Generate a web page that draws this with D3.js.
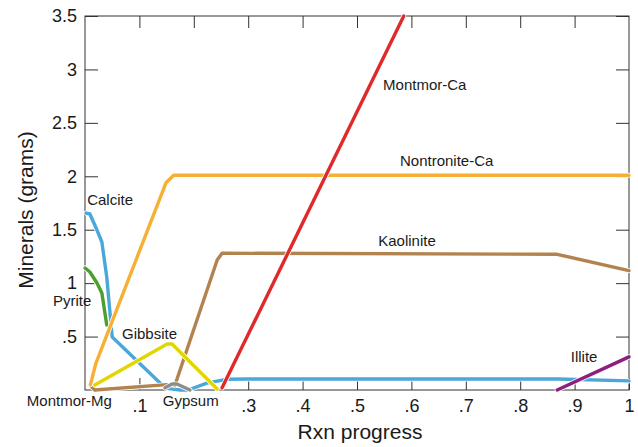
<!DOCTYPE html>
<html>
<head>
<meta charset="utf-8">
<script src="https://cdn.jsdelivr.net/npm/d3@7"></script>
<style>
  body { margin: 0; background: #fff; }
  svg { display: block; font-family: "Liberation Sans", Arial, Helvetica, sans-serif; }
</style>
</head>
<body>
<div id="chart"></div>
<script>
// data: [rxn progress, grams]
const calcite = [[0.002,1.656],[0.009,1.647],[0.022,1.497],[0.031,1.385],[0.040,1.057],[0.050,0.496],[0.138,0.065],[0.151,0.015],[0.175,0.0],[0.19,0.0],[0.224,0.065],[0.26,0.1],[0.3,0.103],[0.87,0.103],[1,0.085]];
const pyrite = [[0.0,1.142],[0.009,1.104],[0.022,1.001],[0.031,0.908],[0.040,0.608]];
const montmorMg = [[0.009,0.047],[0.018,0.0],[0.151,0.05]];
const kaolinite = [[0.165,0.04],[0.243,1.217],[0.252,1.28],[0.868,1.27],[1,1.117]];
const nontroniteCa = [[0.01,0.05],[0.02,0.25],[0.149,1.94],[0.163,2.01],[1,2.01]];
const gibbsite = [[0.018,0.047],[0.151,0.43],[0.16,0.43],[0.243,0.01]];
const gypsum = [[0.147,0.02],[0.16,0.056],[0.169,0.056],[0.193,0.0]];
const montmorCa = [[0.252,0.02],[0.586,3.5]];
const illite = [[0.868,0.0],[1,0.31]];

const seriesNames = ["Calcite","Pyrite","Montmor-Mg","Kaolinite","Nontronite-Ca","Gibbsite","Gypsum","Montmor-Ca","Illite"];
const seriesData = [calcite, pyrite, montmorMg, kaolinite, nontroniteCa, gibbsite, gypsum, montmorCa, illite];
const seriesColors = ["#4aa7d9","#4b9e30","#b3834f","#b3834f","#f6b034","#e2d600","#8c8c8c","#e0292b","#8e1f7e"];

// labels anchored in data units (start of text, baseline)
const labelNames = ["Montmor-Ca","Nontronite-Ca","Kaolinite","Illite","Calcite","Pyrite","Gibbsite","Montmor-Mg","Gypsum"];
const labelAt = [[0.548,2.807],[0.579,2.096],[0.539,1.348],[0.893,0.262],[0.004,1.731],[-0.059,0.786],[0.068,0.477],[-0.107,-0.15],[0.143,-0.15]];

const xTicks = [0.1,0.3,0.4,0.5,0.6,0.7,0.8,0.9,1];
const xTickLabels = [".1",".3",".4",".5",".6",".7",".8",".9","1"];
const yTicks = [0.5,1,1.5,2,2.5,3,3.5];
const yTickLabels = [".5","1","1.5","2","2.5","3","3.5"];

const W = 638, H = 447;
const margin = { left: 85, right: 9, top: 16, bottom: 57 };
const width = W - margin.left - margin.right;
const height = H - margin.top - margin.bottom;

const svg = d3.select("#chart").append("svg").attr("width", W).attr("height", H);
const g = svg.append("g").attr("transform", `translate(${margin.left},${margin.top})`);

const x = d3.scaleLinear().domain([0, 1]).range([0, width]);
const y = d3.scaleLinear().domain([0, 3.5]).range([height, 0]);

const axisColor = "#333";

// frame
g.append("rect")
  .attr("width", width).attr("height", height)
  .attr("fill", "none").attr("stroke", axisColor).attr("stroke-width", 1);

const styleAxis = sel => {
  sel.select(".domain").remove();
  sel.selectAll(".tick line").attr("stroke", axisColor);
  sel.selectAll(".tick text").attr("fill", "#1a1a1a").attr("font-size", "18px")
    .attr("font-family", "Liberation Sans, Arial, sans-serif");
};

g.append("g").attr("transform", `translate(0,${height})`)
  .call(d3.axisBottom(x).tickValues(xTicks).tickSize(-12).tickPadding(9)
    .tickFormat((d, i) => xTickLabels[i]))
  .call(styleAxis);
g.append("g")
  .call(d3.axisTop(x).tickValues([0.1,0.2,0.3,0.4,0.5,0.6,0.7,0.8,0.9]).tickSize(-12).tickFormat(""))
  .call(styleAxis);
g.append("g")
  .call(d3.axisLeft(y).tickValues(yTicks).tickSize(-13).tickPadding(8)
    .tickFormat((d, i) => yTickLabels[i]))
  .call(styleAxis);
g.append("g").attr("transform", `translate(${width},0)`)
  .call(d3.axisRight(y).tickValues(yTicks).tickSize(-13).tickFormat(""))
  .call(styleAxis);

const line = d3.line().x(d => x(d[0])).y(d => y(d[1]));

const lines = g.append("g");
seriesData.forEach((data, i) => {
  lines.append("path").datum(data)
    .attr("d", line).attr("fill", "none")
    .attr("stroke", "#fff").attr("stroke-width", 5)
    .attr("stroke-linejoin", "round").attr("stroke-linecap", "round");
  lines.append("path").datum(data)
    .attr("d", line).attr("fill", "none")
    .attr("stroke", seriesColors[i]).attr("stroke-width", 3.4)
    .attr("stroke-linejoin", "round").attr("stroke-linecap", "round");
});

g.append("g").selectAll("text")
  .data(labelNames)
  .join("text")
    .attr("x", (d, i) => x(labelAt[i][0]))
    .attr("y", (d, i) => y(labelAt[i][1]))
    .attr("font-size", "15px")
    .attr("fill", "#1a1a1a")
    .text(d => d);

// axis titles
svg.append("text")
  .attr("x", 360).attr("y", 439)
  .attr("text-anchor", "middle").attr("font-size", "21px").attr("fill", "#1a1a1a")
  .text("Rxn progress");
svg.append("text")
  .attr("transform", "translate(33,210) rotate(-90)")
  .attr("text-anchor", "middle").attr("font-size", "21px").attr("fill", "#1a1a1a")
  .text("Minerals (grams)");
</script>
</body>
</html>
